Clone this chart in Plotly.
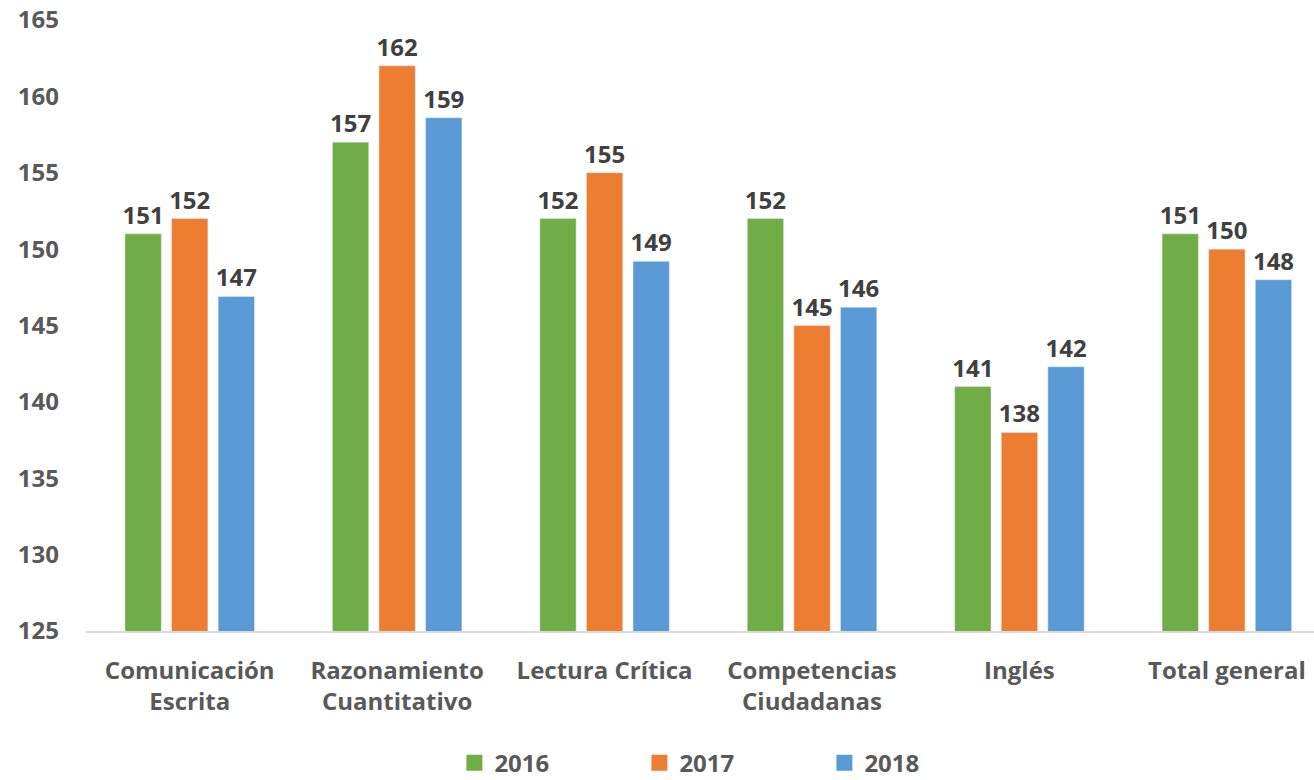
import plotly.graph_objects as go

categories = ["Comunicación<br>Escrita", "Razonamiento<br>Cuantitativo", "Lectura Crítica",
              "Competencias<br>Ciudadanas", "Inglés", "Total general"]
years = ["2016", "2017", "2018"]
v2016 = [151.0, 157.0, 152.0, 152.0, 141.0, 151.0]
v2017 = [152.0, 162.0, 155.0, 145.0, 138.0, 150.0]
v2018 = [146.9, 158.6, 149.2, 146.2, 142.3, 148.0]
colors = ["#70AD47", "#ED7D31", "#5B9BD5"]
y_ticks = [125, 130, 135, 140, 145, 150, 155, 160, 165]

FONT = "Open Sans"
fig = go.Figure()
for name, vals, col in zip(years, [v2016, v2017, v2018], colors):
    fig.add_trace(go.Bar(
        x=categories, y=vals, name=name, marker_color=col, showlegend=False,
        text=[f"{round(v):.0f}" for v in vals], textposition="outside",
        constraintext="none",
        textfont=dict(size=24, color="#404040", family=FONT, weight="bold"),
        cliponaxis=False,
    ))
for name, col in zip(years, colors):
    fig.add_trace(go.Scatter(
        x=[None], y=[None], mode="markers", name=name,
        marker=dict(symbol="square", size=16, color=col),
    ))

fig.update_layout(
    width=1314, height=787,
    margin=dict(l=86, r=0, t=20, b=156),
    plot_bgcolor="white", paper_bgcolor="white",
    barmode="group", bargap=0.326, bargroupgap=0.22,
    font=dict(family=FONT, color="#595959"),
    showlegend=True,
    legend=dict(orientation="h", x=0.3, xanchor="left", y=-0.253, yanchor="bottom",
                entrywidth=140, font=dict(size=24, color="#595959", family=FONT, weight="bold")),
    xaxis=dict(showline=True, linecolor="#D9D9D9", linewidth=2, ticks="",
               range=[-0.5, 5.42],
               ticklabelstandoff=17, automargin=False,
               tickfont=dict(size=24, color="#595959", family=FONT, weight="bold"),
               showgrid=False),
    yaxis=dict(range=[125, 165], showgrid=False, showline=False, zeroline=False,
               tickvals=y_ticks, ticktext=[str(t) for t in y_ticks],
               ticklabelstandoff=26, automargin=False,
               tickfont=dict(size=24, color="#595959", family=FONT, weight="bold")),
)
fig.write_html("out.html", config={"displayModeBar": False},
               post_script="document.body.style.margin='0';document.body.style.overflow='hidden';")
